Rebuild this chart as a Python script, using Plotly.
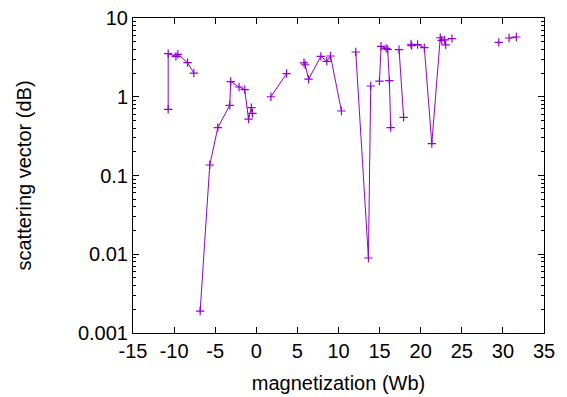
import plotly.graph_objects as go

# Data segments (gnuplot blocks separated by blank lines)
seg_x = [
    [-10.72, -10.72, -9.78, -9.54, -8.36, -7.60],
    [-6.83, -5.66, -4.68, -3.23, -3.11, -2.10, -1.41, -0.95, -0.60, -0.47],
    [1.78, 3.69],
    [5.80, 5.95, 6.36, 7.85, 8.58, 9.03, 10.36],
    [12.10, 13.64, 13.92],
    [14.98, 15.18, 15.79, 15.98, 16.19, 16.35],
    [17.37, 17.92],
    [18.82, 18.90, 19.62, 20.44, 21.35, 22.38, 22.56, 22.92, 23.04],
    [23.80],
    [29.50],
    [30.75, 31.64],
]
seg_y = [
    [0.693, 3.53, 3.26, 3.46, 2.71, 2.00],
    [0.0019, 0.136, 0.406, 0.779, 1.56, 1.33, 1.23, 0.52, 0.728, 0.616],
    [1.00, 1.97],
    [2.70, 2.55, 1.67, 3.26, 2.82, 3.29, 0.659],
    [3.70, 0.00896, 1.37],
    [1.58, 4.37, 4.12, 4.00, 1.60, 0.406],
    [3.97, 0.548],
    [4.64, 4.46, 4.60, 4.21, 0.254, 5.61, 5.21, 5.28, 4.57],
    [5.47],
    [4.91],
    [5.57, 5.74],
]

x_ticks = [-15, -10, -5, 0, 5, 10, 15, 20, 25, 30, 35]
y_ticks = [0.001, 0.01, 0.1, 1, 10]
y_tick_text = ["0.001", "0.01", "0.1", "1", "10"]

xs, ys = [], []
for sx, sy in zip(seg_x, seg_y):
    xs += sx + [None]
    ys += sy + [None]

color = "#9400D3"
font = "Liberation Sans, Arial, sans-serif"
fs = 20

fig = go.Figure()
fig.add_trace(go.Scatter(
    x=xs, y=ys, mode="lines+markers", connectgaps=False,
    line=dict(color=color, width=1),
    marker=dict(symbol="cross-thin", size=6, line=dict(color=color, width=1.2), color=color),
    showlegend=False, hoverinfo="skip", cliponaxis=False,
))

axis_common = dict(
    showline=True, linecolor="black", linewidth=1, mirror="ticks",
    ticks="inside", ticklen=6, tickcolor="black", tickwidth=1,
    showgrid=False, zeroline=False, automargin=False,
    ticklabeloverflow="allow",
    tickfont=dict(family=font, size=fs, color="black"),
)

# page body has an 8px default margin, so the figure is offset by (8, 8)
fig.update_layout(
    width=559, height=389,
    margin=dict(l=125, r=23, t=10, b=64),
    plot_bgcolor="white", paper_bgcolor="white",
    xaxis=dict(range=[-15, 35], tickvals=x_ticks, ticktext=[str(t) for t in x_ticks],
               title=dict(text="magnetization (Wb)", font=dict(family=font, size=fs, color="black"), standoff=14),
               **axis_common),
    yaxis=dict(type="log", range=[-3, 1], tickvals=y_ticks, ticktext=y_tick_text,
               minor=dict(ticks="inside", ticklen=3, tickcolor="black", dtick="D1", showgrid=False),
               title=dict(text="scattering vector (dB)", font=dict(family=font, size=fs, color="black"), standoff=40),
               **axis_common),
)

fig.write_html("out.html")
